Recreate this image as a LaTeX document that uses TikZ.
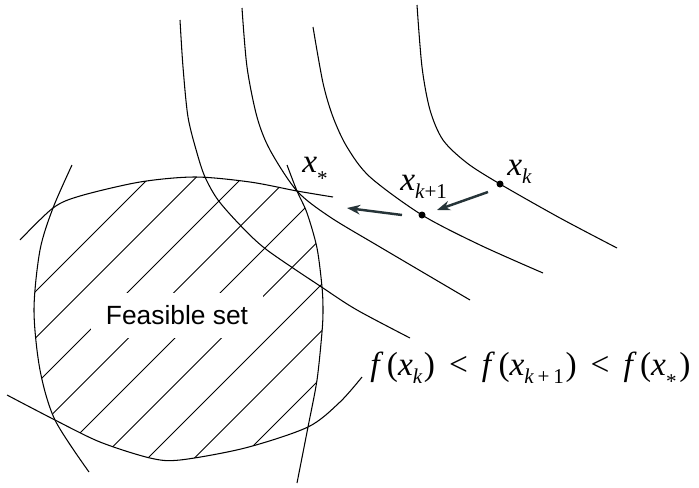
\documentclass[tikz,border=0pt]{standalone}
\usepackage{fontspec}
\setmainfont{Liberation Serif}
\newfontfamily\labelsans{Liberation Sans}
\usetikzlibrary{arrows.meta}
\definecolor{arrowgray}{RGB}{38,52,56}
\newcommand{\sbs}[1]{\raisebox{-0.25em}{\fontsize{12}{13}\selectfont #1}}
\newcommand{\iter}[1]{{\itshape x}\sbs{#1}}
\newcommand{\lt}{\hspace{0.42em}<\hspace{0.42em}}

\begin{document}
\begin{tikzpicture}[
    x=0.02cm, y=-0.02cm,
    curve/.style={line width=0.6pt, smooth},
    hatch/.style={line width=0.5pt},
    dot/.style={circle, fill=black, inner sep=0pt, minimum size=0.14cm},
    lbl/.style={font=\rmfamily\fontsize{19}{21}\selectfont, inner sep=0pt, anchor=base west},
    setlbl/.style={fill=white, font=\labelsans\fontsize{15}{17}\selectfont, minimum width=3.46cm, minimum height=0.9cm, inner sep=0pt},
    arr/.style={-{Stealth[length=7.5pt, width=5.5pt]}, line width=1.4pt, draw=arrowgray, fill=arrowgray},
]
\useasboundingbox (0,0) rectangle (699,487);

% Hatching of the feasible set
\begin{scope}
  \clip plot[smooth] coordinates {(53,208) (80,196) (140,182) (195,177) (250,182) (297,191)}
     -- plot[smooth] coordinates {(297,191) (307,213) (317,248) (322,287) (323,310) (322,332) (317,380) (308,427)}
     -- plot[smooth] coordinates {(308,427) (245,448) (180,460) (150,458) (100,442) (55,420)}
     -- plot[smooth] coordinates {(55,420) (40,370) (34,310) (40,250) (53,208)} -- cycle;
  \foreach \c in {327,373.5,...,700}
    \draw[hatch] (\c-480,480) -- (\c-150,150);
\end{scope}

% Nodes
\node[setlbl] (feas) at (177,315) {Feasible set};

% Boundary of the feasible set
\draw[curve] plot coordinates {(20,240) (53,208) (80,196) (140,182) (195,177) (250,182) (297,191) (333,197)};
\draw[curve] plot coordinates {(287,165) (297,191) (307,213) (317,248) (322,287) (323,310) (322,332) (317,380) (308,427) (297,483)};
\draw[curve] plot coordinates {(7,395) (55,420) (100,442) (150,458) (180,460) (245,448) (308,427) (340,402) (362,377)};
\draw[curve] plot coordinates {(72,165) (53,208) (40,250) (34,310) (40,370) (55,420) (89,472)};

% Level curves
\draw[curve] plot coordinates {(180,20) (183,67) (188,117) (197,153) (205,177) (218,200) (241,226) (267,250) (323,288) (357,310) (410,338)};
\draw[curve] plot coordinates {(242,8) (247,67) (257,117) (270,150) (297,191) (330,217) (380,247) (470,300)};
\draw[curve] plot coordinates {(313,27) (323,83) (333,117) (347,147) (370,177) (422,215) (480,245) (543,273)};
\draw[curve] plot coordinates {(417,5) (422,67) (430,110) (443,140) (467,163) (500,184) (560,218) (617,248)};

% Iterates
\node[dot] (xk) at (500,184) {};
\node[dot] (xkone) at (422,215) {};
\node[lbl] (xklbl) at (507,175) {\iter{\itshape k}};
\node[lbl] (xkonelbl) at (400,190) {\iter{{\itshape k}+1}};
\node[lbl] (xstarlbl) at (302,172) {\iter{\raisebox{-0.25em}{*}}};
\node[lbl] (ineq) at (370,375) {{\itshape f}\hspace{0.22em}(\iter{\itshape k}\hspace{0.05em})\lt{\itshape f}\hspace{0.22em}(\iter{{\itshape k}\hspace{0.18em}+\hspace{0.18em}1}\hspace{0.05em})\lt{\itshape f}\hspace{0.22em}(\iter{\raisebox{-0.25em}{*}}\hspace{0.08em})};

% Arrows
\coordinate (aone) at (488,192);
\coordinate (aonetip) at (437,210);
\coordinate (atwo) at (402,215);
\coordinate (atwotip) at (347,208);
\draw[arr] (aone) -- (aonetip);
\draw[arr] (atwo) -- (atwotip);

\end{tikzpicture}
\end{document}
